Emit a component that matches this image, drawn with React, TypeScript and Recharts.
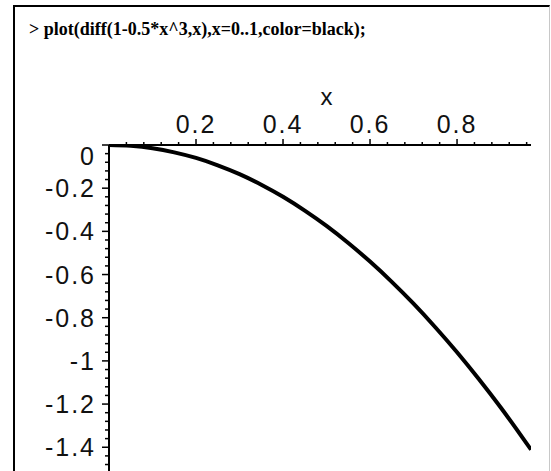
import React from 'react';
import { LineChart, Line, XAxis, YAxis, ReferenceDot } from 'recharts';

// curve values (x, y)
const xValues = [0, 0.05, 0.1, 0.15, 0.2, 0.25, 0.3, 0.35, 0.4, 0.45, 0.5, 0.55, 0.6, 0.65, 0.7, 0.75, 0.8, 0.85, 0.9, 0.95, 0.97];
const yValues = [0, -0.004, -0.015, -0.034, -0.06, -0.094, -0.135, -0.184, -0.24, -0.304, -0.375, -0.454, -0.54, -0.634, -0.735, -0.844, -0.96, -1.084, -1.215, -1.354, -1.411];

// axis ticks
const xTicks = [0.04, 0.08, 0.12, 0.16, 0.2, 0.24, 0.28, 0.32, 0.36, 0.4, 0.44, 0.48, 0.52, 0.56, 0.6, 0.64, 0.68, 0.72, 0.76, 0.8, 0.84, 0.88, 0.92, 0.96];
const xTickLabels = ['0.2', '0.4', '0.6', '0.8'];
const yTicks = [0, -0.04, -0.08, -0.12, -0.16, -0.2, -0.24, -0.28, -0.32, -0.36, -0.4, -0.44, -0.48, -0.52, -0.56, -0.6, -0.64, -0.68, -0.72, -0.76, -0.8, -0.84, -0.88, -0.92, -0.96, -1, -1.04, -1.08, -1.12, -1.16, -1.2, -1.24, -1.28, -1.32, -1.36, -1.4, -1.44, -1.48];
const yTickLabels = ['0', '-0.2', '-0.4', '-0.6', '-0.8', '-1', '-1.2', '-1.4'];

const xDomain = [0, 0.97];
const yDomain = [-1.51, 0];
const axisLabel = 'x';
const title = '> plot(diff(1-0.5*x^3,x),x=0..1,color=black);';

const data = xValues.map((x, i) => ({ x, y: yValues[i] }));

const FONT = '"Liberation Sans", Arial, sans-serif';
const TICK_FS = 25;
const TICK_LS = 2;

const XTick = (props: any) => {
  const { x, y, payload } = props;
  const v = payload.value;
  const label = xTickLabels.find((s) => Math.abs(parseFloat(s) - v) < 1e-6);
  const len = label ? 6 : 3;
  return (
    <g>
      <line x1={x} x2={x} y1={y} y2={y - len} stroke="#000" strokeWidth={1.5} />
      {label && (
        <text x={x} y={y - 12} textAnchor="middle" fontFamily={FONT} fontSize={TICK_FS} letterSpacing={TICK_LS} fill="#111">
          {label}
        </text>
      )}
    </g>
  );
};

const YTick = (props: any) => {
  const { x, y, payload } = props;
  const v = payload.value;
  const label = yTickLabels.find((s) => Math.abs(parseFloat(s) - v) < 1e-6);
  const len = label ? 7 : 4;
  const dy = v === 0 ? 11 : 0;
  return (
    <g>
      <line x1={x} x2={x - len} y1={y} y2={y} stroke="#000" strokeWidth={1.5} />
      {label && (
        <text x={x - 13} y={y + dy + 9} textAnchor="end" fontFamily={FONT} fontSize={TICK_FS} letterSpacing={TICK_LS} fill="#111">
          {label}
        </text>
      )}
    </g>
  );
};

export default function App() {
  return (
    <div style={{ position: 'absolute', left: 0, top: 0, width: 551, height: 471, overflow: 'hidden', background: '#fff' }}>
      <div
        style={{
          position: 'absolute',
          left: 13,
          top: 5,
          width: 537,
          height: 520,
          boxSizing: 'border-box',
          borderLeft: '2px solid #000',
          borderTop: '2px solid #000',
          borderRight: '1px solid #c8c8c8',
        }}
      />
      <div
        style={{
          position: 'absolute',
          left: 29,
          top: 19,
          fontFamily: '"Liberation Serif", "Times New Roman", serif',
          fontWeight: 'bold',
          fontSize: 18,
          lineHeight: '20px',
          whiteSpace: 'pre',
          color: '#000',
        }}
      >
        {title}
      </div>
      <div style={{ position: 'absolute', left: 0, top: 0 }}>
        <LineChart width={551} height={471} data={data} margin={{ top: 115, left: 49, right: 20, bottom: 0 }}>
          <XAxis
            type="number"
            dataKey="x"
            orientation="top"
            domain={xDomain}
            ticks={xTicks}
            interval={0}
            height={30}
            tickSize={0}
            tickMargin={0}
            tickLine={false}
            tick={<XTick />}
            axisLine={{ stroke: '#000', strokeWidth: 2 }}
            allowDataOverflow
          />
          <YAxis
            type="number"
            dataKey="y"
            domain={yDomain}
            ticks={yTicks}
            interval={0}
            width={60}
            tickSize={0}
            tickMargin={0}
            tickLine={false}
            tick={<YTick />}
            axisLine={{ stroke: '#000', strokeWidth: 2 }}
            allowDataOverflow
          />
          <ReferenceDot
            x={0.5}
            y={0}
            r={0}
            fill="none"
            stroke="none"
            label={{ value: axisLabel, position: 'top', offset: 40, fontFamily: FONT, fontSize: 24, fill: '#111' }}
          />
          <Line type="monotone" dataKey="y" stroke="#000" strokeWidth={4} dot={false} isAnimationActive={false} />
        </LineChart>
      </div>
    </div>
  );
}
